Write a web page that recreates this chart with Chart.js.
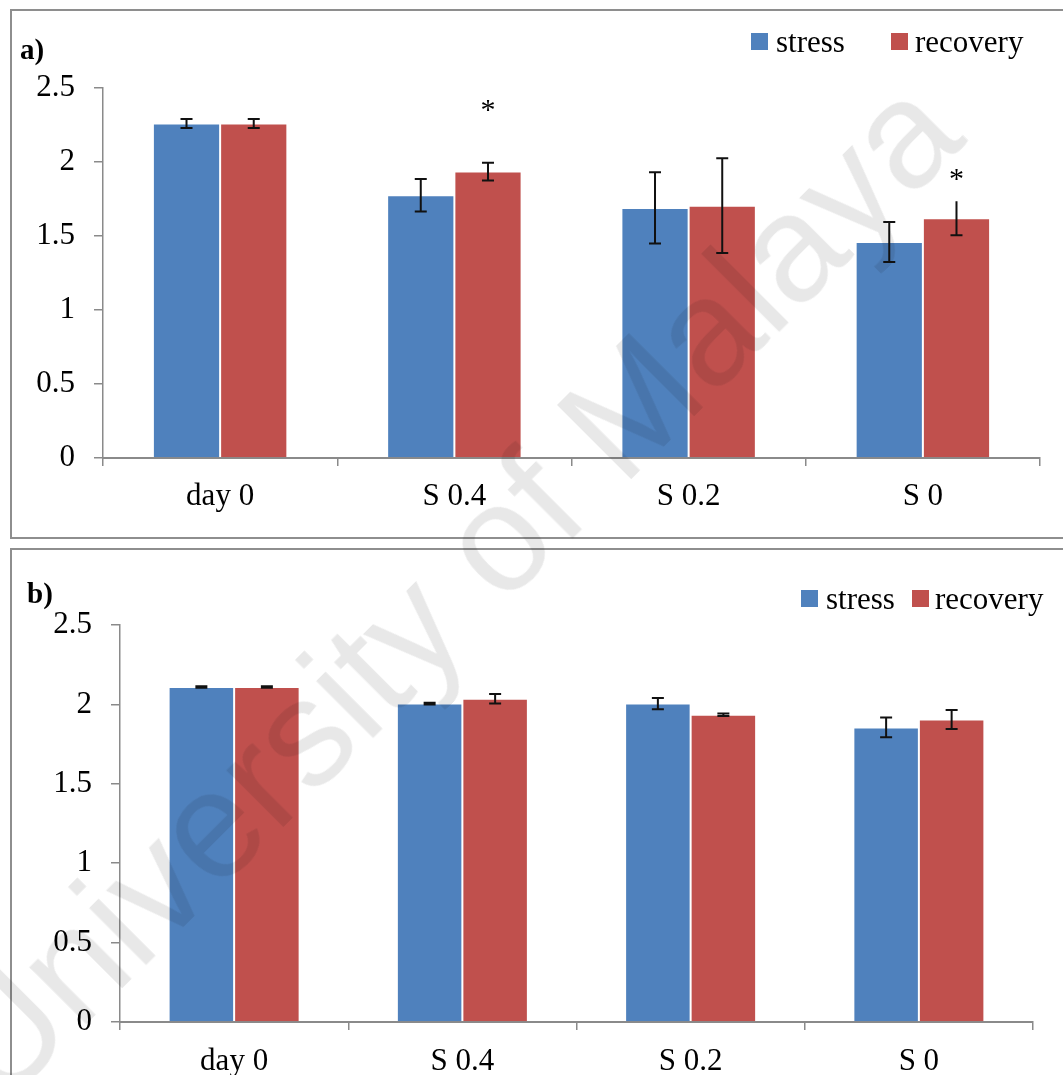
<!DOCTYPE html>
<html>
<head>
<meta charset="utf-8">
<script src="https://cdn.jsdelivr.net/npm/chart.js@4.4.1/dist/chart.umd.min.js"></script>
<style>
  html, body { margin: 0; padding: 0; background: #fff; width: 1063px; height: 1075px; overflow: hidden; position: relative; font-family: "Liberation Serif", "Times New Roman", serif; }
  .panel { position: absolute; border: 2px solid #8e8e8e; box-sizing: border-box; }
  canvas { position: absolute; left: 0; }
  .lbl { position: absolute; font-weight: bold; font-size: 29px; line-height: 1; color: #000; }
  .leg { position: absolute; font-size: 31px; line-height: 1; color: #000; white-space: nowrap; }
  .sw { position: absolute; width: 17px; height: 17px; }
  #wm { position: absolute; left: 0; top: 0; font-family: "Liberation Sans", Arial, sans-serif; font-size: 152px; color: rgba(0,0,0,0.09); white-space: nowrap; transform-origin: 0 0; pointer-events: none; line-height: 1; }
</style>
</head>
<body>
<div class="panel" style="left:10px; top:9px; width:1070px; height:530px;"></div>
<div class="panel" style="left:10px; top:548px; width:1070px; height:560px;"></div>
<canvas id="ca" width="1063" height="540" style="top:0px; width:1063px; height:540px;"></canvas>
<canvas id="cb" width="1063" height="535" style="top:540px; width:1063px; height:535px;"></canvas>

<div class="lbl" style="left:20px; top:35px;">a)</div>
<div class="lbl" style="left:27px; top:579px;">b)</div>

<div class="sw" style="left:751px; top:33px; background:#4F81BD;"></div>
<div class="leg" style="left:776px; top:26px;">stress</div>
<div class="sw" style="left:891px; top:33px; background:#C0504D;"></div>
<div class="leg" style="left:915px; top:26px;">recovery</div>

<div class="sw" style="left:801px; top:590px; background:#4F81BD;"></div>
<div class="leg" style="left:826px; top:583px;">stress</div>
<div class="sw" style="left:912px; top:590px; background:#C0504D;"></div>
<div class="leg" style="left:935px; top:583px;">recovery</div>

<div id="wm">University of Malaya</div>

<script>
// ---------- data ----------
const categories = ["day 0", "S 0.4", "S 0.2", "S 0"];
const seriesNames = ["stress", "recovery"];

const stressA    = [2.26, 1.775, 1.69, 1.46];
const stressAErr = [0.03, 0.11, 0.24, 0.135];
const recovA     = [2.26, 1.935, 1.705, 1.62];
const recovAErr  = [0.03, 0.06, 0.32, 0.115];
const recovACap  = [true, true, true, false];   // upper whisker cap shown?
const starsA     = [null, 2.345, null, 1.88];   // "*" marker level over recovery bars

const stressB    = [2.11, 2.005, 2.005, 1.855];
const stressBErr = [0.005, 0.006, 0.035, 0.062];
const recovB     = [2.11, 2.035, 1.935, 1.905];
const recovBErr  = [0.005, 0.03, 0.008, 0.06];

const yTicks = [0, 0.5, 1, 1.5, 2, 2.5];

const BLUE = "#4F81BD", RED = "#C0504D";
const AXIS = "#8a8a8a";
const FONT = "Liberation Serif";

// ---------- plugins ----------
const errorBarPlugin = {
  id: "errbars",
  afterDatasetsDraw(chart) {
    const ctx = chart.ctx;
    const y = chart.scales.y;
    ctx.save();
    ctx.strokeStyle = "#111";
    ctx.lineWidth = 2;
    chart.data.datasets.forEach((ds, di) => {
      const meta = chart.getDatasetMeta(di);
      const errs = ds.errors || [];
      const caps = ds.capTop || [];
      meta.data.forEach((bar, i) => {
        const v = ds.data[i], e = errs[i];
        if (e == null) return;
        const x = bar.x;
        const yt = y.getPixelForValue(v + e);
        const yb = y.getPixelForValue(v - e);
        ctx.beginPath();
        ctx.moveTo(x, yt); ctx.lineTo(x, yb);
        if (caps[i] !== false) { ctx.moveTo(x - 6, yt); ctx.lineTo(x + 6, yt); }
        ctx.moveTo(x - 6, yb); ctx.lineTo(x + 6, yb);
        ctx.stroke();
      });
      const stars = ds.stars || [];
      ctx.fillStyle = "#000";
      ctx.font = "30px " + FONT;
      ctx.textAlign = "center";
      ctx.textBaseline = "middle";
      meta.data.forEach((bar, i) => {
        if (stars[i] == null) return;
        ctx.fillText("*", bar.x, y.getPixelForValue(stars[i]));
      });
    });
    ctx.restore();
  }
};

function makeChart(id, s, se, r, re, rcap, stars, geom) {
  return new Chart(document.getElementById(id), {
    type: "bar",
    data: {
      labels: categories,
      datasets: [
        { label: seriesNames[0], data: s, errors: se, backgroundColor: BLUE, borderColor: "rgba(255,255,255,0.35)", borderWidth: 1 },
        { label: seriesNames[1], data: r, errors: re, capTop: rcap, stars: stars, backgroundColor: RED, borderColor: "rgba(255,255,255,0.35)", borderWidth: 1 }
      ]
    },
    options: {
      responsive: false,
      animation: false,
      devicePixelRatio: 1,
      layout: { padding: { top: geom.top, right: geom.right, left: 0, bottom: 0 } },
      plugins: { legend: { display: false }, tooltip: { enabled: false } },
      datasets: { bar: { categoryPercentage: 0.574, barPercentage: 1.0 } },
      scales: {
        x: {
          grid: { display: true, drawOnChartArea: false, drawTicks: true, tickLength: 8, color: AXIS, lineWidth: 1.5, offset: true },
          border: { display: true, color: AXIS, width: 2 },
          ticks: { font: { family: FONT, size: 31 }, color: "#000", padding: geom.xpad, maxRotation: 0 },
          afterFit(sc) { sc.height = geom.xh; }
        },
        y: {
          min: 0, max: 2.5,
          afterBuildTicks(sc) { sc.ticks = yTicks.map(v => ({ value: v })); },
          grid: { display: true, drawOnChartArea: false, drawTicks: true, tickLength: 9, color: AXIS, lineWidth: 1.5 },
          border: { display: true, color: AXIS, width: 1.5 },
          ticks: { font: { family: FONT, size: 31 }, color: "#000", padding: 19, callback: v => String(v) },
          afterFit(sc) { sc.width = geom.yw; }
        }
      }
    },
    plugins: [errorBarPlugin]
  });
}

makeChart("ca", stressA, stressAErr, recovA, recovAErr, recovACap, starsA,
  { top: 88, right: 23, yw: 103, xh: 82, xpad: 12 });
makeChart("cb", stressB, stressBErr, recovB, recovBErr, null, [null, null, null, null],
  { top: 85, right: 30, yw: 120, xh: 53, xpad: 13 });

// watermark placement
document.getElementById("wm").style.transform = "translate(-90px, 1018px) rotate(-45deg)";
</script>
</body>
</html>
